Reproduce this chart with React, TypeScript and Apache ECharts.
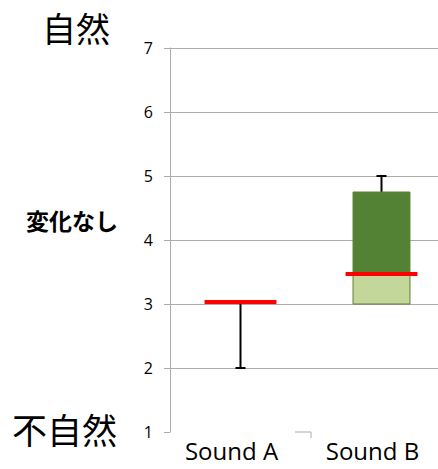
import React, { useEffect, useRef } from "react";
import * as echarts from "echarts";

const categories = ["Sound A", "Sound B"];
const boxLow = [3.03, 3.0];
const medians = [3.03, 3.47];
const boxHigh = [3.03, 4.75];
const whiskerEnds = [2.0, 5.0];
const yMin = 1;
const yMax = 7;
const yInterval = 1;

export default function App() {
  const ref = useRef<HTMLDivElement>(null);
  useEffect(() => {
    if (!ref.current) return;
    const chart = echarts.init(ref.current, null, { renderer: "svg" });
    const data = categories.map((_, i) => [i, boxLow[i], medians[i], boxHigh[i], whiskerEnds[i]]);
    const grey = "#ababab";
    chart.setOption({
      animation: false,
      grid: { left: 170, top: 48, width: 282, height: 384 },
      xAxis: {
        type: "category",
        data: categories,
        boundaryGap: true,
        axisLine: { show: false },
        axisTick: { show: false },
        axisLabel: {
          fontSize: 24,
          color: "#000",
          fontFamily: "Open Sans",
          margin: 6,
          padding: [0, 18, 0, 0],
        },
      },
      yAxis: {
        type: "value",
        min: yMin,
        max: yMax,
        interval: yInterval,
        axisLine: { show: true, lineStyle: { color: grey, width: 1 } },
        axisTick: { show: true, length: 6, lineStyle: { color: grey } },
        axisLabel: { fontSize: 16, color: "#000", fontFamily: "Open Sans", margin: 17 },
        splitLine: { show: true, showMinLine: false, lineStyle: { color: grey, width: 1 } },
      },
      series: [
        {
          type: "custom",
          data,
          encode: { x: 0, y: [1, 2, 3, 4] },
          renderItem: (params: any, api: any) => {
            const x = api.value(0);
            const low = api.value(1);
            const med = api.value(2);
            const high = api.value(3);
            const wh = api.value(4);
            const band = api.size([1, 0])[0];
            const cx = api.coord([x, med])[0];
            const boxW = band * 0.404;
            const medW = band * 0.51;
            const capW = 10;
            const yLow = api.coord([x, low])[1];
            const yMed = api.coord([x, med])[1];
            const yHigh = api.coord([x, high])[1];
            const yWh = api.coord([x, wh])[1];
            const yStart = wh > high ? yHigh : yLow;
            const children: any[] = [];
            children.push({
              type: "line",
              shape: { x1: cx, y1: yStart, x2: cx, y2: yWh },
              style: { stroke: "#000", lineWidth: 2 },
            });
            children.push({
              type: "line",
              shape: { x1: cx - capW / 2, y1: yWh, x2: cx + capW / 2, y2: yWh },
              style: { stroke: "#000", lineWidth: 2 },
            });
            if (yLow - yMed > 0.5) {
              children.push({
                type: "rect",
                shape: { x: cx - boxW / 2, y: yMed, width: boxW, height: yLow - yMed },
                style: { fill: "#c4d79b", stroke: "#5f8236", lineWidth: 1 },
              });
            }
            if (yMed - yHigh > 0.5) {
              children.push({
                type: "rect",
                shape: { x: cx - boxW / 2, y: yHigh, width: boxW, height: yMed - yHigh },
                style: { fill: "#548235", stroke: "#5f8236", lineWidth: 1 },
              });
            }
            children.push({
              type: "rect",
              shape: { x: cx - medW / 2, y: yMed - 2, width: medW, height: 4 },
              style: { fill: "#ff0000" },
            });
            return { type: "group", children };
          },
        },
      ],
    });
    const pa = chart.convertToPixel({ gridIndex: 0 }, [0, yMin]) as number[];
    const pb = chart.convertToPixel({ gridIndex: 0 }, [1, yMin]) as number[];
    const bx = (pa[0] + pb[0]) / 2;
    const by = pa[1];
    chart.setOption({
      graphic: [
        { type: "text", left: 42, top: 10, style: { text: "自然", fontSize: 34, fill: "#000", fontFamily: "Noto Sans CJK JP" } },
        { type: "text", left: 26, top: 208, style: { text: "変化なし", fontSize: 23, fontWeight: "bold", fill: "#000", fontFamily: "Noto Sans CJK JP" } },
        { type: "text", left: 12, top: 411, style: { text: "不自然", fontSize: 35, fill: "#000", fontFamily: "Noto Sans CJK JP" } },
        { type: "line", shape: { x1: bx - 16, y1: by, x2: bx, y2: by }, style: { stroke: grey, lineWidth: 1 } },
        { type: "line", shape: { x1: bx, y1: by, x2: bx, y2: by + 6 }, style: { stroke: grey, lineWidth: 1 } },
      ],
    });
    return () => chart.dispose();
  }, []);
  return (
    <div style={{ position: "fixed", left: 0, top: 0, width: 438, height: 469, overflow: "hidden", background: "#fff" }}>
      <div ref={ref} style={{ width: 470, height: 469 }} />
    </div>
  );
}
